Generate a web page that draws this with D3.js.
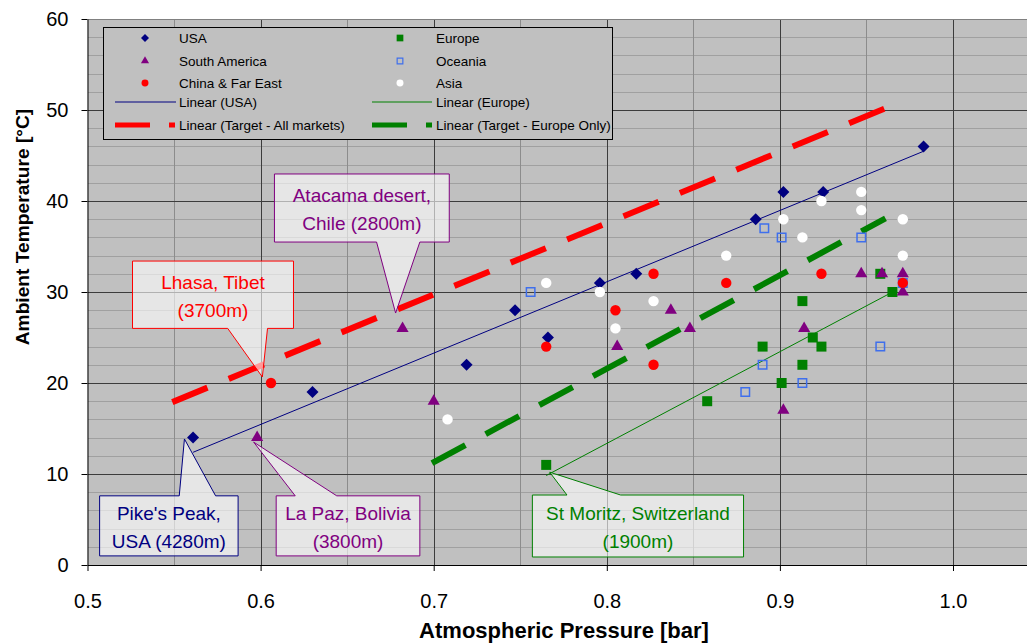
<!DOCTYPE html>
<html>
<head>
<meta charset="utf-8">
<script src="https://cdn.jsdelivr.net/npm/d3@7"></script>
<style>
  body { margin: 0; background: #fff; }
  svg { display: block; font-family: "Liberation Sans", Arial, sans-serif; }
</style>
</head>
<body>
<svg id="chart" width="1027" height="644"></svg>
<script>
// values: pressure [bar] / temperature [°C] per market
const usaPressure = [0.561, 0.630, 0.719, 0.747, 0.766, 0.796, 0.817, 0.886, 0.902, 0.925, 0.983];
const usaTemp = [14, 19, 22, 28, 25, 31, 32, 38, 41, 41, 46];

const europePressure = [0.765, 0.858, 0.890, 0.901, 0.913, 0.913, 0.919, 0.924, 0.958, 0.965];
const europeTemp = [11, 18, 24, 20, 29, 22, 25, 24, 32, 30];

const saPressure = [0.598, 0.682, 0.700, 0.806, 0.837, 0.848, 0.902, 0.914, 0.947, 0.959, 0.971, 0.971];
const saTemp = [14, 26, 18, 24, 28, 26, 17, 26, 32, 32, 32, 30];

const oceaniaPressure = [0.756, 0.880, 0.890, 0.891, 0.901, 0.913, 0.947, 0.958, 0.971];
const oceaniaTemp = [30, 19, 22, 37, 36, 20, 36, 24, 31];

const chinaPressure = [0.606, 0.765, 0.805, 0.827, 0.827, 0.869, 0.924, 0.971];
const chinaTemp = [20, 24, 28, 32, 22, 31, 32, 31];

const asiaPressure = [0.708, 0.765, 0.796, 0.805, 0.827, 0.869, 0.902, 0.913, 0.924, 0.947, 0.947, 0.971, 0.971];
const asiaTemp = [16, 31, 30, 26, 29, 34, 38, 36, 40, 41, 39, 38, 34];

// target lines, start and end
const targetAllPressure = [0.549, 0.961];
const targetAllTemp = [17.9, 50.2];
const targetEuPressure = [0.699, 0.961];
const targetEuTemp = [11.2, 38.1];

const xTicks = [0.5, 0.6, 0.7, 0.8, 0.9, 1.0];
const yTicks = [0, 10, 20, 30, 40, 50, 60];

// callouts (box / pointer given in data units)
const callouts = [
    {lines: ["Pike's Peak,", "USA (4280m)"], color: "#000080", box: [0.507, 0.587, 7.6, 1.0], base: [0.553, 0.574], tip: [0.556, 13.85]},
    {lines: ["La Paz, Bolivia", "(3800m)"], color: "#800080", box: [0.609, 0.692, 7.6, 1.0], base: [0.620, 0.644], tip: [0.596, 13.5]},
    {lines: ["Lhasa, Tibet", "(3700m)"], color: "#ff0000", box: [0.526, 0.619, 33.4, 26.0], base: [0.581, 0.604], tip: [0.601, 20.66]},
    {lines: ["Atacama desert,", "Chile (2800m)"], color: "#800080", box: [0.608, 0.709, 42.97, 35.49], base: [0.667, 0.692], tip: [0.678, 27.69]},
    {lines: ["St Moritz, Switzerland", "(1900m)"], color: "#008000", box: [0.757, 0.879, 7.69, 0.88], base: [0.777, 0.808], tip: [0.767, 10.2]}
];

const zip = (xs, ys) => xs.map((v, i) => [v, ys[i]]);

// drawing order follows the original chart
const series = [
    {name: "USA", pts: zip(usaPressure, usaTemp), type: d3.symbolSquare, size: 72, rot: 45, fill: "#000080", stroke: "none"},
    {name: "Europe", pts: zip(europePressure, europeTemp), type: d3.symbolSquare, size: 100, rot: 0, fill: "#008000", stroke: "none"},
    {name: "South America", pts: zip(saPressure, saTemp), type: d3.symbolTriangle, size: 64, rot: 0, fill: "#800080", stroke: "none"},
    {name: "Oceania", pts: zip(oceaniaPressure, oceaniaTemp), type: d3.symbolSquare, size: 72, rot: 0, fill: "none", stroke: "#3f6fec"},
    {name: "China & Far East", pts: zip(chinaPressure, chinaTemp), type: d3.symbolCircle, size: 85, rot: 0, fill: "#ff0000", stroke: "none"},
    {name: "Asia", pts: zip(asiaPressure, asiaTemp), type: d3.symbolCircle, size: 85, rot: 0, fill: "#ffffff", stroke: "none"}
];

function linearFit(pts) {
    const mx = d3.mean(pts, d => d[0]);
    const my = d3.mean(pts, d => d[1]);
    const slope = d3.sum(pts, d => (d[0] - mx) * (d[1] - my)) / d3.sum(pts, d => (d[0] - mx) ** 2);
    const [x0, x1] = d3.extent(pts, d => d[0]);
    return [[x0, my + slope * (x0 - mx)], [x1, my + slope * (x1 - mx)]];
}

const svg = d3.select('#chart');
const plotLeft = 87.5, plotTop = 19, plotBottom = 565, plotRight = 1027;

const x = d3.scaleLinear().domain([0.5, 1.1]).range([plotLeft, plotLeft + 1731 * 0.6]);
const y = d3.scaleLinear().domain([0, 60]).range([plotBottom, plotTop]);

svg.append('defs').append('clipPath').attr('id', 'plotclip')
    .append('rect').attr('x', plotLeft).attr('y', plotTop)
    .attr('width', plotRight - plotLeft).attr('height', plotBottom - plotTop);

svg.append('rect')
    .attr('x', plotLeft).attr('y', plotTop)
    .attr('width', plotRight - plotLeft).attr('height', plotBottom - plotTop)
    .attr('fill', '#c0c0c0');

// gridlines
const grid = svg.append('g').attr('shape-rendering', 'crispEdges');
const yMinor = d3.range(2, 60, 2).filter(v => v % 10 !== 0);
grid.selectAll('.hminor').data(yMinor).join('line')
    .attr('x1', plotLeft).attr('x2', plotRight)
    .attr('y1', d => Math.round(y(d)) + 0.5).attr('y2', d => Math.round(y(d)) + 0.5)
    .attr('stroke', '#a0a0a0');
const xMinor = d3.range(0.55, 1.1, 0.1);
grid.selectAll('.vminor').data(xMinor).join('line')
    .attr('y1', plotTop).attr('y2', plotBottom)
    .attr('x1', d => Math.round(x(d)) + 0.5).attr('x2', d => Math.round(x(d)) + 0.5)
    .attr('stroke', '#8c8c8c');
grid.selectAll('.hmajor').data(yTicks.filter(v => v > 0 && v < 60)).join('line')
    .attr('x1', plotLeft).attr('x2', plotRight)
    .attr('y1', d => Math.round(y(d)) + 0.5).attr('y2', d => Math.round(y(d)) + 0.5)
    .attr('stroke', '#3c3c3c');
grid.selectAll('.vmajor').data(xTicks.filter(v => v > 0.5)).join('line')
    .attr('y1', plotTop).attr('y2', plotBottom)
    .attr('x1', d => Math.round(x(d)) + 0.5).attr('x2', d => Math.round(x(d)) + 0.5)
    .attr('stroke', '#3c3c3c');
grid.append('line')
    .attr('x1', plotLeft).attr('x2', plotRight).attr('y1', plotTop + 0.5).attr('y2', plotTop + 0.5)
    .attr('stroke', '#808080');

// axes
const xAxis = svg.append('g')
    .attr('transform', `translate(0,${plotBottom})`)
    .call(d3.axisBottom(x).tickValues(xTicks).tickFormat(d3.format('.1f')).tickSize(6).tickSizeOuter(0).tickPadding(23));
const yAxis = svg.append('g')
    .attr('transform', `translate(${plotLeft},0)`)
    .call(d3.axisLeft(y).tickValues(yTicks).tickSize(6).tickSizeOuter(0).tickPadding(13));
[xAxis, yAxis].forEach(g => {
    g.select('.domain').attr('stroke', '#000');
    g.selectAll('.tick line').attr('stroke', '#000');
    g.selectAll('text').attr('font-size', 20).attr('fill', '#000')
        .attr('font-family', '"Liberation Sans", Arial, sans-serif');
});

svg.append('text')
    .attr('x', 564).attr('y', 638)
    .attr('text-anchor', 'middle')
    .attr('font-weight', 'bold').attr('font-size', 22)
    .text('Atmospheric Pressure [bar]');
svg.append('text')
    .attr('transform', 'translate(29,227) rotate(-90)')
    .attr('text-anchor', 'middle')
    .attr('font-weight', 'bold').attr('font-size', 19.2)
    .text('Ambient Temperature [°C]');

// lines
const plot = svg.append('g').attr('clip-path', 'url(#plotclip)');
const line = d3.line().x(d => x(d[0])).y(d => y(d[1]));

plot.append('path')
    .attr('d', line(linearFit(series[0].pts)))
    .attr('stroke', '#000080').attr('stroke-width', 1).attr('fill', 'none');
plot.append('path')
    .attr('d', line(linearFit(series[1].pts)))
    .attr('stroke', '#008000').attr('stroke-width', 1).attr('fill', 'none');
plot.append('path')
    .attr('d', line(zip(targetAllPressure, targetAllTemp)))
    .attr('stroke', '#ff0000').attr('stroke-width', 6).attr('stroke-dasharray', '38,23').attr('fill', 'none');
plot.append('path')
    .attr('d', line(zip(targetEuPressure, targetEuTemp)))
    .attr('stroke', '#008000').attr('stroke-width', 6).attr('stroke-dasharray', '38,23').attr('fill', 'none');

// markers
series.forEach(s => {
    const sym = d3.symbol().type(s.type).size(s.size);
    plot.append('g').selectAll('path')
        .data(s.pts)
        .join('path')
        .attr('d', sym)
        .attr('transform', d => `translate(${x(d[0])},${y(d[1])}) rotate(${s.rot})`)
        .attr('fill', s.fill)
        .attr('stroke', s.stroke)
        .attr('stroke-width', 1.5);
});

// legend
const legend = svg.append('g');
legend.append('rect')
    .attr('x', 103.5).attr('y', 27.5).attr('width', 509).attr('height', 112)
    .attr('fill', '#c0c0c0').attr('stroke', '#000');

const legendSlots = [
    {s: 0, mx: 145, tx: 179, ty: 38},
    {s: 1, mx: 400, tx: 436, ty: 38},
    {s: 2, mx: 145, tx: 179, ty: 61},
    {s: 3, mx: 400, tx: 436, ty: 61},
    {s: 4, mx: 145, tx: 179, ty: 83},
    {s: 5, mx: 400, tx: 436, ty: 83}
];
legendSlots.forEach(l => {
    const s = series[l.s];
    legend.append('path')
        .attr('d', d3.symbol().type(s.type).size(s.size * 0.45)())
        .attr('transform', `translate(${l.mx},${l.ty}) rotate(${s.rot})`)
        .attr('fill', s.fill).attr('stroke', s.stroke).attr('stroke-width', 1.2);
    legend.append('text')
        .attr('x', l.tx).attr('y', l.ty + 5)
        .attr('font-size', 13.5)
        .text(s.name);
});

const legendLines = [
    {label: 'Linear (USA)', color: '#000080', w: 1, dash: null, x0: 115, x1: 176, ty: 102, tx: 179},
    {label: 'Linear (Europe)', color: '#008000', w: 1, dash: null, x0: 372, x1: 432, ty: 102, tx: 436},
    {label: 'Linear (Target - All markets)', color: '#ff0000', w: 5, dash: '35,19', x0: 115, x1: 175, ty: 125, tx: 179},
    {label: 'Linear (Target - Europe Only)', color: '#008000', w: 5, dash: '35,19', x0: 372, x1: 432, ty: 125, tx: 436}
];
legendLines.forEach(l => {
    legend.append('line')
        .attr('x1', l.x0).attr('x2', l.x1).attr('y1', l.ty).attr('y2', l.ty)
        .attr('stroke', l.color).attr('stroke-width', l.w)
        .attr('stroke-dasharray', l.dash);
    legend.append('text')
        .attr('x', l.tx).attr('y', l.ty + 5)
        .attr('font-size', 13.5)
        .text(l.label);
});

// callouts
callouts.forEach(c => {
    const x0 = x(c.box[0]), x1 = x(c.box[1]);
    const y0 = y(c.box[2]), y1 = y(c.box[3]);
    const ba = x(c.base[0]), bb = x(c.base[1]);
    const tx = x(c.tip[0]), ty = y(c.tip[1]);
    let pts;
    if (ty < y0) {
        pts = [[x0, y0], [ba, y0], [tx, ty], [bb, y0], [x1, y0], [x1, y1], [x0, y1]];
    } else {
        pts = [[x0, y0], [x1, y0], [x1, y1], [bb, y1], [tx, ty], [ba, y1], [x0, y1]];
    }
    svg.append('path')
        .attr('d', d3.line()(pts) + 'Z')
        .attr('fill', '#ffffff').attr('fill-opacity', 0.6)
        .attr('stroke', c.color).attr('stroke-width', 1);
    const cy = (y0 + y1) / 2;
    c.lines.forEach((t, i) => {
        svg.append('text')
            .attr('x', (x0 + x1) / 2)
            .attr('y', cy + (i === 0 ? -13 : 15) + 7)
            .attr('text-anchor', 'middle')
            .attr('font-size', 19)
            .attr('fill', c.color)
            .text(t);
    });
});
</script>
</body>
</html>
